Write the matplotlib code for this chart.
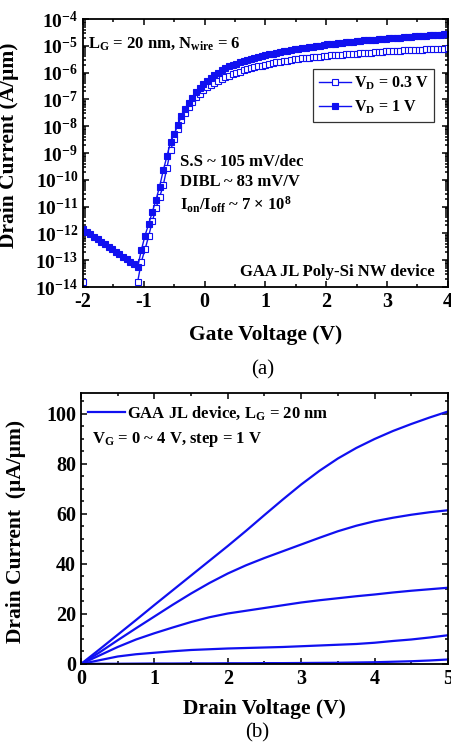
import numpy as np
import matplotlib
matplotlib.use("Agg")
import matplotlib.pyplot as plt
from matplotlib.ticker import MultipleLocator, LogLocator, FixedLocator, FixedFormatter, NullFormatter

plt.rcParams["font.family"] = ["Liberation Serif", "DejaVu Serif"]
plt.rcParams["font.weight"] = "bold"
plt.rcParams["mathtext.fontset"] = "custom"
plt.rcParams["mathtext.rm"] = "Liberation Serif:bold"
plt.rcParams["mathtext.bf"] = "Liberation Serif:bold"
plt.rcParams["mathtext.it"] = "Liberation Serif:bold"

BLUE = "#1010f0"

# ---- (a) transfer curves, gate sweep -2..4 V in 0.06 V steps ----
vg_sweep = np.round(np.linspace(-2.0, 4.0, 101), 2)

# log10(Id) for VD = 1 V
log_id_vd1 = [
    -11.84, -11.93, -12.03, -12.12, -12.21, -12.31, -12.40, -12.49, -12.59, -12.68,
    -12.77, -12.87, -12.96, -13.05, -13.15, -13.25,
    -12.62, -12.08, -11.65, -11.20, -10.75, -10.25, -9.65, -9.12, -8.60, -8.30,
    -7.95, -7.62, -7.35, -7.15, -6.95, -6.73, -6.57, -6.42, -6.30, -6.20,
    -6.10, -6.00, -5.91, -5.83, -5.76, -5.71, -5.66,
    -5.61, -5.57, -5.53, -5.49, -5.45, -5.41, -5.38, -5.35, -5.32, -5.29,
    -5.26, -5.23, -5.21, -5.18, -5.16, -5.13, -5.11, -5.09, -5.07, -5.05,
    -5.03, -5.01, -4.99, -4.97, -4.95, -4.93, -4.92, -4.90, -4.89, -4.87,
    -4.86, -4.84, -4.83, -4.82, -4.80, -4.79, -4.78, -4.77, -4.75, -4.74,
    -4.73, -4.72, -4.71, -4.70, -4.69, -4.68, -4.67, -4.66, -4.65, -4.64,
    -4.63, -4.62, -4.61, -4.60, -4.59, -4.58, -4.57, -4.56,
]

# log10(Id) for VD = 0.3 V (nan = below the plotted range)
log_id_vd03 = [
    -13.80, np.nan, np.nan, np.nan, np.nan, np.nan, np.nan, np.nan, np.nan, np.nan,
    np.nan, np.nan, np.nan, np.nan, np.nan,
    -13.80, -13.05, -12.60, -12.10, -11.55, -11.05, -10.65, -10.20, -9.55, -8.90,
    -8.48, -8.12, -7.78, -7.52, -7.30, -7.10, -6.92, -6.78, -6.65, -6.55,
    -6.46, -6.37, -6.30, -6.24, -6.18, -6.11, -6.06, -6.01,
    -5.96, -5.92, -5.88, -5.84, -5.80, -5.77, -5.74, -5.71, -5.68, -5.65,
    -5.62, -5.59, -5.57, -5.55, -5.53, -5.51, -5.49, -5.47, -5.46, -5.44,
    -5.43, -5.41, -5.40, -5.39, -5.37, -5.36, -5.35, -5.34, -5.33, -5.32,
    -5.31, -5.30, -5.29, -5.28, -5.27, -5.26, -5.25, -5.24, -5.23, -5.22,
    -5.21, -5.21, -5.20, -5.19, -5.18, -5.17, -5.17, -5.16, -5.15, -5.14,
    -5.14, -5.13, -5.12, -5.12, -5.11, -5.10, -5.10, -5.09,
]

# ---- (b) output curves, uA/um ----
vd_sweep = [0, 0.25, 0.5, 0.75, 1.0, 1.25, 1.5, 1.75, 2.0, 2.25, 2.5,
            2.75, 3.0, 3.25, 3.5, 3.75, 4.0, 4.25, 4.5, 4.75, 5.0]
id_vg4 = [0, 5.8, 11.7, 17.6, 23.6, 29.5, 35.4, 41.3, 47.2, 53.3, 59.6,
          65.8, 71.8, 77.3, 82.2, 86.4, 90.0, 93.2, 96.0, 98.6, 101.0]
id_vg3 = [0, 4.6, 9.5, 14.3, 19.0, 23.7, 28.2, 32.4, 36.2, 39.5, 42.4,
          45.1, 47.8, 50.5, 53.1, 55.3, 57.1, 58.5, 59.7, 60.7, 61.5]
id_vg2 = [0, 3.4, 6.8, 9.8, 12.3, 14.6, 16.8, 18.7, 20.2, 21.3, 22.4,
          23.5, 24.6, 25.5, 26.3, 27.1, 27.8, 28.6, 29.3, 29.9, 30.5]
id_vg1 = [0, 1.5, 3.0, 3.9, 4.5, 5.1, 5.6, 5.9, 6.2, 6.4, 6.6,
          6.8, 7.1, 7.4, 7.7, 8.0, 8.5, 9.2, 9.8, 10.6, 11.5]
id_vg0 = [0, 0.1, 0.1, 0.15, 0.2, 0.2, 0.25, 0.25, 0.3, 0.3, 0.35,
          0.35, 0.4, 0.45, 0.5, 0.6, 0.7, 0.9, 1.1, 1.4, 1.8]

fig = plt.figure(figsize=(4.51, 7.49), dpi=100)
ax1 = fig.add_axes([0.184, 0.6168, 0.809, 0.3578])
ax2 = fig.add_axes([0.1796, 0.1135, 0.8137, 0.3618])

for ax in (ax1, ax2):
    for s in ax.spines.values():
        s.set_linewidth(1.3)
    ax.tick_params(which="both", direction="in", top=True, right=True,
                   labelsize=14.5, width=1.1)
    ax.tick_params(which="major", length=4.5)
    ax.tick_params(which="minor", length=2.5)

# panel (a)
ax1.plot(vg_sweep, 10 ** np.array(log_id_vd03), "-s", color=BLUE, lw=1.0,
         ms=3.9, mfc="white", mec=BLUE, mew=0.8, label=r"$\mathbf{V_D}$ = 0.3 V")
ax1.plot(vg_sweep, 10 ** np.array(log_id_vd1), "-s", color=BLUE, lw=1.0,
         ms=3.9, mfc=BLUE, mec=BLUE, mew=0.8, label=r"$\mathbf{V_D}$ = 1 V")
ax1.set_yscale("log")
ax1.set_xlim(-2, 4)
ax1.set_ylim(1e-14, 1e-4)
ax1.xaxis.set_major_locator(MultipleLocator(1))
ax1.xaxis.set_minor_locator(MultipleLocator(0.5))
decades = list(range(-14, -3))
ax1.yaxis.set_major_locator(FixedLocator([10.0 ** d for d in decades]))
ax1.yaxis.set_major_formatter(FixedFormatter([r"$\mathbf{10^{%d}}$" % d for d in decades]))
ax1.yaxis.set_minor_locator(LogLocator(base=10, subs=np.arange(2, 10), numticks=20))
ax1.yaxis.set_minor_formatter(NullFormatter())
ax1.tick_params(axis="y", labelsize=14)
ax1.set_xticks([-2, -1, 0, 1, 2, 3, 4])
ax1.set_xticklabels(["-2", "-1", "0", "1", "2", "3", "4"])
ax1.set_xlabel("Gate Voltage (V)", fontsize=15.5, fontweight="bold")
ax1.set_ylabel("Drain Current (A/\u03bcm)", fontsize=15.5, fontweight="bold")
ax1.yaxis.set_label_coords(-0.175, 0.53)
ax1.xaxis.set_label_coords(0.5, -0.14)

leg = ax1.legend(loc="upper right", bbox_to_anchor=(0.962, 0.815), fontsize=11.5,
                 frameon=True, fancybox=False, edgecolor="black", handlelength=2.0,
                 handletextpad=0.2, borderpad=0.35, labelspacing=0.45, borderaxespad=0)
leg.get_frame().set_linewidth(0.9)

ax1.text(0.014, 0.91, r"$\mathbf{L_G}$ = 20 nm, $\mathbf{N_{wire}}$ = 6",
         transform=ax1.transAxes, fontsize=12, va="center", ha="left")
ax1.text(0.266, 0.466, "S.S ~ 105 mV/dec", transform=ax1.transAxes,
         fontsize=12, va="center", ha="left")
ax1.text(0.266, 0.392, "DIBL ~ 83 mV/V", transform=ax1.transAxes,
         fontsize=12, va="center", ha="left")
ax1.text(0.266, 0.306, r"$\mathbf{I_{on}/I_{off}}$ ~ 7 $\times$ $\mathbf{10^{8}}$",
         transform=ax1.transAxes, fontsize=12, va="center", ha="left")
ax1.text(0.964, 0.056, "GAA JL Poly-Si NW device", transform=ax1.transAxes,
         fontsize=12, va="center", ha="right")

# panel (b)
ax2.plot(vd_sweep, id_vg4, color=BLUE, lw=1.6, label=r"GAA JL device, $\mathbf{L_G}$ = 20 nm")
for curve in (id_vg3, id_vg2, id_vg1, id_vg0):
    ax2.plot(vd_sweep, curve, color=BLUE, lw=1.6)
ax2.set_xlim(0, 5)
ax2.set_ylim(0, 108.4)
ax2.xaxis.set_major_locator(MultipleLocator(1))
ax2.xaxis.set_minor_locator(MultipleLocator(0.5))
ax2.yaxis.set_major_locator(MultipleLocator(20))
ax2.yaxis.set_minor_locator(MultipleLocator(5))
ax2.set_xlabel("Drain Voltage (V)", fontsize=15.5, fontweight="bold")
ax2.set_ylabel("Drain Current  (\u03bcA/\u03bcm)", fontsize=15.5, fontweight="bold")
ax2.yaxis.set_label_coords(-0.15, 0.49)
ax2.xaxis.set_label_coords(0.5, -0.13)
ax2.legend(loc="center left", bbox_to_anchor=(0.02, 0.926), fontsize=12,
           frameon=False, handlelength=2.2, handletextpad=0.1, borderaxespad=0,
           borderpad=0)
ax2.text(0.030, 0.827, r"$\mathbf{V_G}$ = 0 ~ 4 V, step = 1 V",
         transform=ax2.transAxes, fontsize=12, va="center", ha="left")

fig.text(0.583, 0.506, "(a)", fontsize=15, fontweight="normal", ha="center", va="center")
fig.text(0.570, 0.0214, "(b)", fontsize=15, fontweight="normal", ha="center", va="center")

fig.savefig("out.png", dpi=100)
